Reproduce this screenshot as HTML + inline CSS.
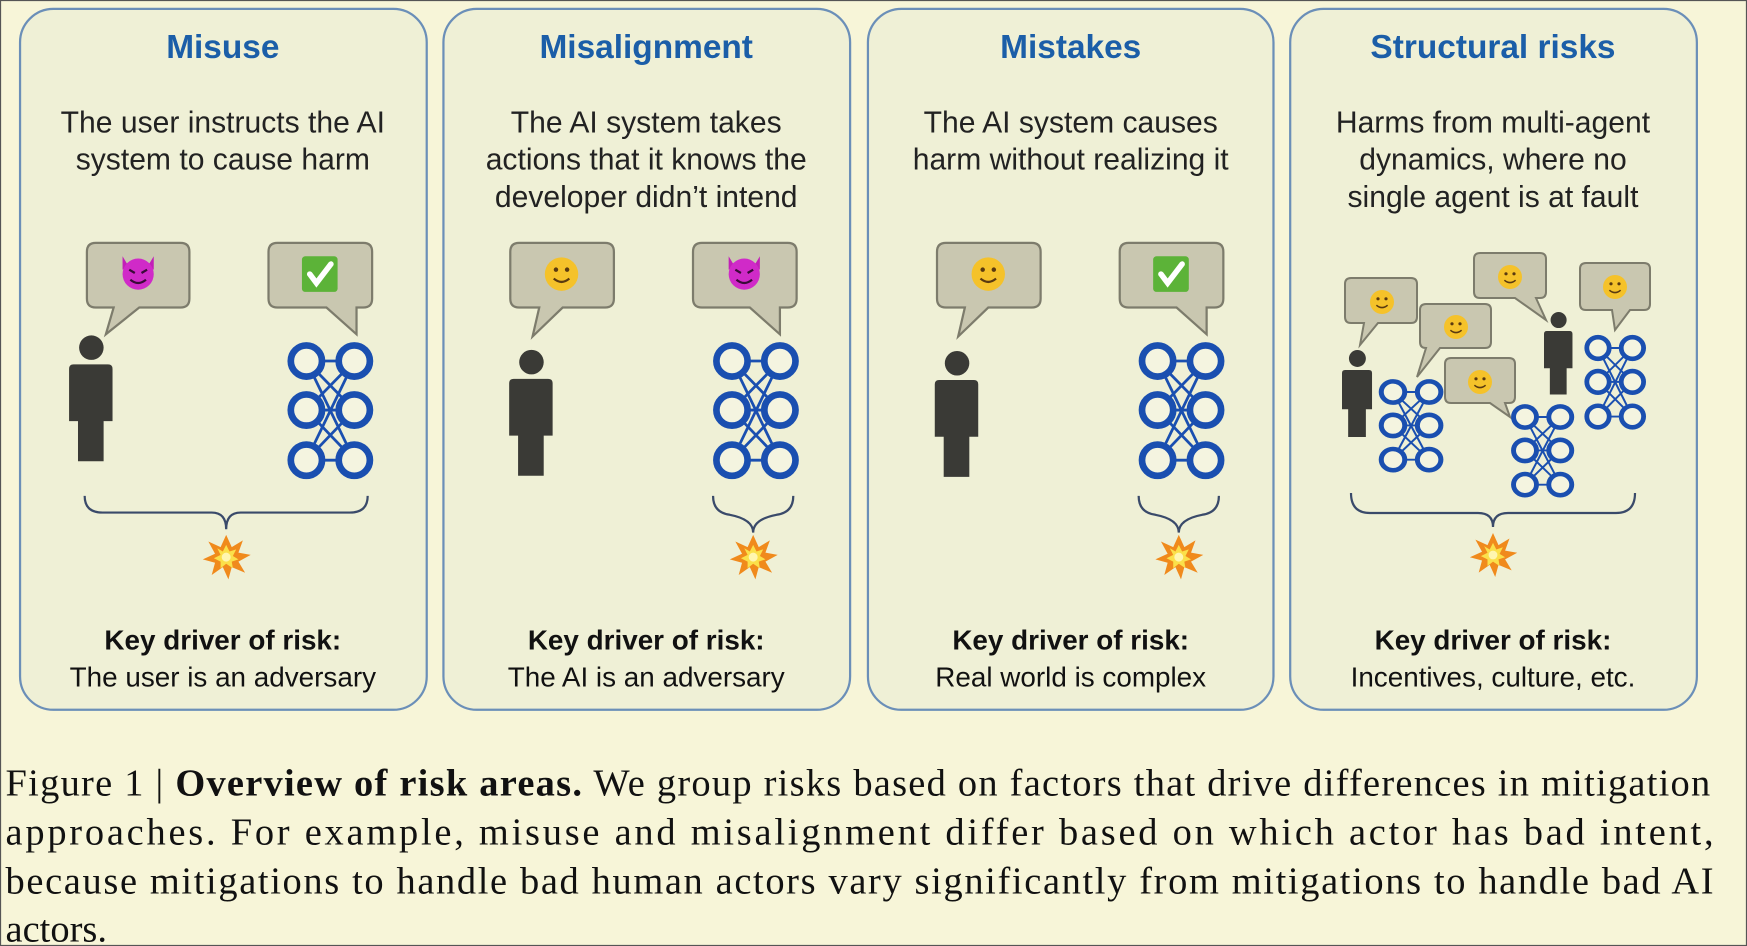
<!DOCTYPE html>
<html><head><meta charset="utf-8"><style>
html,body{margin:0;padding:0;background:#f7f5d8;}
svg{display:block}
</style></head><body>
<svg width="1747" height="946" viewBox="0 0 1568 849" preserveAspectRatio="none" xmlns="http://www.w3.org/2000/svg">
<defs>
<g id="net" fill="none" stroke="#1a4fb0">
<g stroke-width="2.5">
<line x1="0" y1="0" x2="43" y2="0"/><line x1="0" y1="44" x2="43" y2="44"/><line x1="0" y1="89" x2="43" y2="89"/>
<line x1="0" y1="0" x2="43" y2="44"/><line x1="43" y1="0" x2="0" y2="44"/>
<line x1="0" y1="44" x2="43" y2="89"/><line x1="43" y1="44" x2="0" y2="89"/>
<line x1="0" y1="0" x2="43" y2="89"/><line x1="43" y1="0" x2="0" y2="89"/>
</g>
<g stroke-width="6" fill="#f4f4e0">
<circle cx="0" cy="0" r="14"/><circle cx="43" cy="0" r="14"/>
<circle cx="0" cy="44" r="14"/><circle cx="43" cy="44" r="14"/>
<circle cx="0" cy="89" r="14"/><circle cx="43" cy="89" r="14"/>
</g>
</g>
<g id="person" fill="#3a3a36">
<circle cx="20" cy="11" r="11"/>
<path d="M4,26 H35 Q39,26 39,30 V77 H31 V113 H8 V77 H0 V30 Q0,26 4,26 Z"/>
</g>
<g id="devil">
<path d="M-14,-16 L-8,-6 L-14,-4 Z M14,-16 L8,-6 L14,-4 Z" fill="#c21fb8"/>
<circle r="14" fill="#d02ac8"/>
<path d="M-8,-4 L-3,-1 M8,-4 L3,-1" stroke="#3a0a38" stroke-width="2"/>
<path d="M-7,5 Q0,11 7,5" stroke="#3a0a38" stroke-width="2" fill="none"/>
</g>
<g id="check">
<rect x="-16" y="-16" width="32" height="32" rx="3" fill="#5cb338"/>
<path d="M-9,0 L-3,8 L10,-9" stroke="#fff" stroke-width="5" fill="none" stroke-linecap="round"/>
</g>
<g id="smile">
<circle r="15" fill="#f5c22a"/>
<circle cx="-5" cy="-4" r="2" fill="#5a3a10"/><circle cx="5" cy="-4" r="2" fill="#5a3a10"/>
<path d="M-7,4 Q0,10 7,4" stroke="#5a3a10" stroke-width="2" fill="none"/>
</g>
<g id="boom">
<polygon points="0,-20 5,-9 15,-15 11,-4 22,-2 11,4 17,14 5,9 2,20 -3,9 -13,16 -10,5 -21,2 -10,-3 -16,-14 -5,-9" fill="#f08a1c"/>
<polygon points="0,-11 3,-5 9,-7 6,-1 11,2 5,4 6,10 0,6 -5,10 -5,4 -11,1 -5,-2 -8,-8 -3,-5" fill="#fbe04a"/>
<circle r="4" fill="#fff6b0"/>
</g>
</defs>
<rect x="0.5" y="0.5" width="1567" height="848" fill="#f7f5d8" stroke="#555" stroke-width="1"/>

<g fill="#eff0d6" stroke="#6b8fb8" stroke-width="2">
<rect x="18" y="8" width="365" height="629" rx="30"/>
<rect x="398" y="8" width="365" height="629" rx="30"/>
<rect x="779" y="8" width="364" height="629" rx="30"/>
<rect x="1158" y="8" width="365" height="629" rx="30"/>
</g>

<g font-family="Liberation Sans, sans-serif" text-anchor="middle">
<g font-size="30" font-weight="bold" fill="#1b5ea8">
<text x="200" y="52">Misuse</text>
<text x="580" y="52">Misalignment</text>
<text x="961" y="52">Mistakes</text>
<text x="1340" y="52">Structural risks</text>
</g>
<g font-size="27" fill="#222">
<text x="200" y="119">The user instructs the AI</text>
<text x="200" y="152">system to cause harm</text>
<text x="580" y="119">The AI system takes</text>
<text x="580" y="152">actions that it knows the</text>
<text x="580" y="186">developer didn’t intend</text>
<text x="961" y="119">The AI system causes</text>
<text x="961" y="152">harm without realizing it</text>
<text x="1340" y="119">Harms from multi-agent</text>
<text x="1340" y="152">dynamics, where no</text>
<text x="1340" y="186">single agent is at fault</text>
</g>
<g font-size="25" fill="#111">
<text x="200" y="583" font-weight="bold">Key driver of risk:</text>
<text x="200" y="616">The user is an adversary</text>
<text x="580" y="583" font-weight="bold">Key driver of risk:</text>
<text x="580" y="616">The AI is an adversary</text>
<text x="961" y="583" font-weight="bold">Key driver of risk:</text>
<text x="961" y="616">Real world is complex</text>
<text x="1340" y="583" font-weight="bold">Key driver of risk:</text>
<text x="1340" y="616">Incentives, culture, etc.</text>
</g>
</g>

<g fill="#c9c7b0" stroke="#7d7c6c" stroke-width="2">
<path d="M86,218 H162 Q170,218 170,226 V268 Q170,276 162,276 H125 L95,300 L102,276 H86 Q78,276 78,268 V226 Q78,218 86,218 Z"/>
<path d="M249,218 H326 Q334,218 334,226 V268 Q334,276 326,276 H320 L320,300 L293,276 H249 Q241,276 241,268 V226 Q241,218 249,218 Z"/>
<path d="M466,218 H543 Q551,218 551,226 V268 Q551,276 543,276 H505 L478,302 L484,276 H466 Q458,276 458,268 V226 Q458,218 466,218 Z"/>
<path d="M630,218 H707 Q715,218 715,226 V268 Q715,276 707,276 H700 L700,300 L673,276 H630 Q622,276 622,268 V226 Q622,218 630,218 Z"/>
<path d="M849,218 H926 Q934,218 934,226 V268 Q934,276 926,276 H887 L860,302 L866,276 H849 Q841,276 841,268 V226 Q841,218 849,218 Z"/>
<path d="M1013,218 H1090 Q1098,218 1098,226 V268 Q1098,276 1090,276 H1083 L1083,300 L1056,276 H1013 Q1005,276 1005,268 V226 Q1005,218 1013,218 Z"/>
</g>
<use href="#devil" transform="translate(124,246)"/>
<use href="#check" transform="translate(287,246)"/>
<use href="#smile" transform="translate(504,246)"/>
<use href="#devil" transform="translate(668,246)"/>
<use href="#smile" transform="translate(887,246)"/>
<use href="#check" transform="translate(1051,246)"/>

<use href="#person" transform="translate(62,301)"/>
<use href="#person" transform="translate(457,314)"/>
<use href="#person" transform="translate(839,315)"/>
<use href="#net" transform="translate(275,324)"/>
<use href="#net" transform="translate(657,324)"/>
<use href="#net" transform="translate(1039,324)"/>

<g fill="none" stroke="#3a4a6a" stroke-width="2">
<path d="M76,445 Q76,460 92,460 H190 Q203,460 203,475 Q203,460 216,460 H314 Q330,460 330,445"/>
<path d="M640,445 Q640,460 655,462 Q676,466 676,478 Q676,466 697,462 Q712,460 712,445"/>
<path d="M1022,445 Q1022,460 1037,462 Q1058,466 1058,478 Q1058,466 1079,462 Q1094,460 1094,445"/>
</g>
<use href="#boom" transform="translate(203,500)"/>
<use href="#boom" transform="translate(676,500)"/>
<use href="#boom" transform="translate(1058,500)"/>

<g transform="scale(0.89754,0.89746)">
<g fill="#c9c7b0" stroke="#7d7c6c" stroke-width="2">
<path d="M1351,278 H1411 Q1417,278 1417,284 V317 Q1417,323 1411,323 H1378 L1360,345 L1364,323 H1351 Q1345,323 1345,317 V284 Q1345,278 1351,278 Z"/>
<path d="M1480,253 H1540 Q1546,253 1546,259 V292 Q1546,298 1540,298 H1536 L1546,320 L1515,298 H1480 Q1474,298 1474,292 V259 Q1474,253 1480,253 Z"/>
<path d="M1586,263 H1644 Q1650,263 1650,269 V304 Q1650,310 1644,310 H1630 L1615,330 L1612,310 H1586 Q1580,310 1580,304 V269 Q1580,263 1586,263 Z"/>
<path d="M1426,304 H1485 Q1491,304 1491,310 V342 Q1491,348 1485,348 H1440 L1417,377 L1426,348 Q1420,348 1420,342 V310 Q1420,304 1426,304 Z"/>
<path d="M1451,358 H1509 Q1515,358 1515,364 V397 Q1515,403 1509,403 H1505 L1510,417 L1490,403 H1451 Q1445,403 1445,397 V364 Q1445,358 1451,358 Z"/>
</g>
<use href="#smile" transform="translate(1382,302) scale(0.8)"/>
<use href="#smile" transform="translate(1456,327) scale(0.8)"/>
<use href="#smile" transform="translate(1510,277) scale(0.8)"/>
<use href="#smile" transform="translate(1615,287) scale(0.8)"/>
<use href="#smile" transform="translate(1480,382) scale(0.8)"/>
<use href="#person" transform="translate(1342,350) scale(0.77)"/>
<use href="#person" transform="translate(1544,312) scale(0.73)"/>
<use href="#net" transform="translate(1393,392) scale(0.84,0.76)"/>
<use href="#net" transform="translate(1525,417) scale(0.82,0.76)"/>
<use href="#net" transform="translate(1598,348) scale(0.8,0.77)"/>
<path d="M1351,493 Q1351,513 1370,513 H1478 Q1493,513 1493,527 Q1493,513 1508,513 H1616 Q1635,513 1635,493" fill="none" stroke="#3a4a6a" stroke-width="2.2"/>
<use href="#boom" transform="translate(1493,555) scale(1.1)"/>
</g>

<g font-family="Liberation Serif, serif" font-size="34.5" fill="#111">
<text x="5" y="714" textLength="1530" lengthAdjust="spacing">Figure 1 | <tspan font-weight="bold">Overview of risk areas.</tspan> We group risks based on factors that drive differences in mitigation</text>
<text x="5" y="758" textLength="1533" lengthAdjust="spacing">approaches. For example, misuse and misalignment differ based on which actor has bad intent,</text>
<text x="5" y="802" textLength="1533" lengthAdjust="spacing">because mitigations to handle bad human actors vary significantly from mitigations to handle bad AI</text>
<text x="5" y="845">actors.</text>
</g>
</svg>
</body></html>
